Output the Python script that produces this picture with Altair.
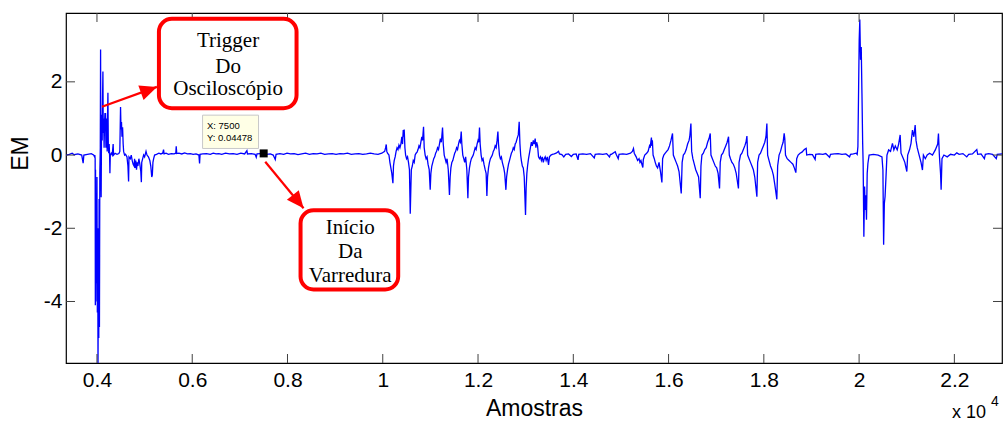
import altair as alt
import pandas as pd

# ---------------- signal (samples, EM) ----------------
samples = [
    3350, 3420, 3480, 3520, 3600, 3680, 3710, 3725, 3800, 3880, 3930, 3950,
    3955, 3962, 3966, 3970, 3976, 3982, 3992, 4000, 4008, 4016, 4022, 4030, 4038, 4045, 4052, 4060,
    4070, 4076, 4082, 4088, 4094, 4100, 4110, 4118, 4125, 4132, 4140, 4150, 4160, 4168, 4174, 4180,
    4188, 4196, 4206, 4214, 4222, 4230, 4238, 4246, 4256, 4265, 4272, 4280, 4300, 4320, 4340, 4348,
    4380, 4420, 4460, 4480, 4495, 4505, 4515, 4525, 4538, 4550, 4560, 4580,
    4600, 4630, 4650, 4664, 4672, 4700, 4720, 4740, 4760, 4780, 4790, 4800, 4815, 4830, 4845, 4860,
    4880, 4900, 4920, 4932, 4940, 4960, 4980, 5000, 5030, 5050, 5080, 5110, 5130, 5150, 5162, 5175,
    5190, 5210, 5250, 5300, 5340, 5380, 5398, 5410, 5450, 5500, 5560, 5620, 5655, 5664, 5675, 5720,
    5780, 5840, 5900, 5960, 6020, 6080, 6140, 6154, 6165, 6220, 6300, 6380, 6440, 6500, 6560, 6620,
    6700, 6780, 6860, 6940, 7020, 7100, 7148, 7160, 7240, 7320, 7344, 7360, 7440, 7500, 7560, 7640,
    7700, 7743, 7760, 7840, 7920, 7990, 8060, 8140, 8220, 8300, 8380, 8460, 8540, 8620, 8700, 8780,
    8860, 8940, 9020, 9100, 9180, 9260, 9340, 9420, 9500, 9580, 9660, 9740, 9820, 9900, 9980, 10040,
    10060, 10073, 10085, 10100,
    10130, 10150, 10170, 10190, 10213, 10225, 10240, 10260, 10280, 10300, 10320, 10340, 10360, 10380,
    10400, 10415, 10430, 10440, 10450, 10465, 10480, 10500, 10520, 10540, 10560, 10577, 10590, 10600,
    10620, 10640, 10660, 10680, 10700, 10720, 10740, 10760, 10780, 10800, 10820, 10835, 10856, 10870,
    10890, 10910, 10930, 10950, 10975, 10996, 11010, 11030, 11050, 11070, 11090, 11110, 11130, 11150,
    11170, 11190, 11210, 11230, 11255, 11270, 11290, 11310, 11330, 11350, 11375, 11400, 11415, 11430,
    11450, 11470, 11490, 11510, 11530, 11550, 11570, 11590, 11610, 11630, 11647, 11660, 11680, 11700,
    11720, 11740, 11765, 11787, 11800, 11820, 11840, 11860, 11880, 11900, 11920, 11940, 11960, 11980,
    12000, 12015, 12031, 12045, 12065, 12085, 12105, 12125, 12150, 12170, 12186, 12200, 12220, 12240,
    12260, 12280, 12300, 12320, 12340, 12360, 12380, 12400, 12417, 12430, 12450, 12470, 12490, 12510,
    12540, 12560, 12585, 12600, 12620, 12640, 12660, 12680, 12700, 12720, 12740, 12760, 12780, 12800,
    12820, 12845, 12864, 12880, 12895, 12910, 12930, 12950, 12970, 12997, 13010, 13025, 13040, 13060,
    13080, 13100, 13120, 13140, 13160, 13180, 13200, 13215, 13230, 13250, 13270, 13290, 13310, 13330,
    13350, 13370, 13390, 13410, 13430, 13455, 13480, 13500, 13530, 13560, 13600, 13640, 13690, 13710,
    13760, 13800, 13840, 13900, 13960, 14000, 14060, 14100, 14115, 14200, 14280, 14360, 14440, 14460,
    14540, 14620, 14700, 14760, 14780, 14800, 14880, 14900, 14943, 14960, 15040, 15120, 15200, 15240,
    15263, 15280, 15320, 15350, 15380, 15400, 15420, 15440, 15460, 15470, 15500, 15540, 15570, 15600,
    15615, 15628, 15640, 15650, 15660, 15675, 15700, 15720, 15745, 15770, 15800, 15830, 15860, 15875,
    15900, 15930, 15960, 15990, 16020, 16050, 16083, 16100, 16130, 16160, 16190, 16220, 16266, 16285,
    16310, 16340, 16370, 16400, 16430, 16445, 16469, 16485, 16510, 16540, 16570, 16600, 16630, 16665,
    16680, 16700, 16730, 16760, 16790, 16820, 16850, 16875, 16890, 16920, 16950, 16980, 17010, 17040,
    17070, 17085, 17110, 17140, 17170, 17200, 17230, 17259, 17275, 17300, 17330, 17360, 17390, 17420,
    17467, 17480, 17510, 17540, 17570, 17600, 17625, 17645, 17660, 17690, 17720, 17750, 17780, 17810,
    17854, 17870, 17900, 17930, 17960, 17990, 18020, 18045, 18064, 18080, 18110, 18140, 18170, 18200,
    18230, 18273, 18290, 18320, 18350, 18380, 18405, 18427, 18440, 18455, 18490, 18530, 18570, 18610,
    18640, 18672, 18690, 18720, 18760, 18800, 18850, 18889, 18900, 18960, 19020, 19077, 19090, 19160,
    19240, 19300, 19380, 19400, 19480, 19560, 19640, 19720, 19800, 19820, 19880, 19940,
    19960, 19975, 19990, 20002, 20015, 20030, 20045, 20060, 20075, 20085, 20100, 20115, 20128, 20140,
    20155, 20170, 20185, 20210, 20300, 20400, 20480, 20500, 20515, 20530, 20545, 20565, 20585, 20620,
    20660, 20700, 20730, 20760, 20800, 20830, 20862, 20880, 20930, 20960, 21002, 21020, 21060, 21090,
    21120, 21150, 21177, 21195, 21220, 21260, 21300, 21330, 21350, 21390, 21430, 21480, 21540, 21600,
    21650, 21666, 21685, 21710, 21722, 21740, 21780, 21850, 21920, 22000, 22051, 22100, 22180, 22260,
    22300, 22380, 22471, 22490, 22560, 22630, 22650, 22720, 22800, 22880, 22900, 23000,
]
em = [
    0.0, 0.02, 0.05, 0.01, 0.03, 0.0, -0.22, 0.0, 0.02, 0.04, 0.0, -0.05,
    0.0, -0.1, -4.1, -0.4, -4.0, -1.5, -3.5, -0.6, -4.3, -2.0, -5.75, -3.2, -5.0, -1.2, -4.7, -0.5,
    0.2, 2.88, -0.2, -1.15, 0.3, 1.1, 0.4, 1.6, 2.28, 0.6, 1.0, 0.2, 0.9, 1.15, 0.7, 1.15,
    0.2, 0.9, 1.0, 0.1, 1.0, 1.7, 0.3, 0.05, 0.3, 0.0, -0.5, 0.0, 0.05, 0.0, 0.3, 0.0,
    0.05, 0.02, 0.04, 0.1, 1.31, 0.7, 0.9, 0.5, 0.76, 0.3, 0.1, 0.0,
    0.02, -0.05, -0.3, -0.72, -0.05, -0.1, 0.0, -0.15, -0.25, -0.3, -0.1, -0.35, -0.15, -0.4, -0.2, -0.3,
    -0.1, -0.25, -0.45, -0.74, -0.2, -0.1, 0.0, -0.05, 0.1, 0.0, -0.05, -0.15, -0.3, -0.6, -0.55, -0.2,
    -0.1, 0.0, 0.02, 0.05, 0.03, 0.05, 0.15, 0.03, 0.05, 0.02, 0.04, 0.03, 0.05, 0.24, 0.04, 0.05,
    0.03, 0.06, 0.03, 0.04, 0.02, 0.03, 0.0, -0.23, 0.02, 0.03, 0.04, 0.02, 0.05, 0.03, 0.04, 0.02,
    0.05, 0.03, 0.04, 0.02, 0.05, 0.03, 0.12, 0.03, 0.04, 0.02, -0.06, 0.03, 0.04, 0.04478, 0.02, 0.03,
    0.0, -0.12, 0.02, 0.04, 0.02, 0.05, 0.03, 0.04, 0.01, 0.03, 0.05, 0.02, 0.04, 0.03, 0.05, 0.02,
    0.03, 0.04, 0.02, 0.04, 0.03, 0.05, 0.02, 0.03, 0.04, 0.02, 0.03, 0.05, 0.03, 0.02, 0.05, 0.1,
    0.2, 0.29, 0.1, 0.05,
    0.0, -0.2, -0.35, -0.5, -0.77, -0.3, -0.15, -0.05, 0.1, 0.2, 0.15, 0.27, 0.2, 0.3,
    0.5, 0.3, 0.68, 0.5, 0.7, 0.2, 0.0, -0.1, -0.05, -0.2, -0.4, -1.6, -0.9, -0.4,
    -0.3, -0.15, -0.2, 0.0, 0.05, 0.08, 0.15, 0.25, 0.2, 0.35, 0.5, 0.4, 0.77, 0.2,
    0.0, -0.1, -0.05, -0.25, -0.4, -0.95, -0.5, -0.3, -0.2, -0.1, -0.05, 0.05, 0.1, 0.2,
    0.15, 0.3, 0.45, 0.35, 0.75, 0.3, 0.0, -0.1, -0.2, -0.1, -0.4, -1.09, -0.6, -0.35,
    -0.2, -0.15, -0.05, 0.05, 0.1, 0.2, 0.15, 0.3, 0.4, 0.35, 0.64, 0.3, 0.0, -0.1,
    -0.2, -0.05, -0.4, -1.18, -0.6, -0.35, -0.2, -0.1, -0.05, 0.0, 0.1, 0.2, 0.15, 0.3,
    0.4, 0.35, 0.75, 0.3, 0.0, -0.15, -0.1, -0.25, -0.4, -0.5, -1.12, -0.6, -0.35, -0.2,
    -0.1, -0.05, 0.0, 0.1, 0.15, 0.25, 0.2, 0.4, 0.64, 0.3, 0.0, -0.1, -0.05, -0.2,
    -0.35, -0.5, -0.95, -0.6, -0.4, -0.25, -0.15, -0.05, 0.05, 0.1, 0.2, 0.15, 0.3, 0.35,
    0.45, 0.55, 0.91, 0.3, 0.0, -0.15, -0.3, -0.35, -0.6, -1.64, -0.9, -0.5, -0.3, -0.1,
    0.05, 0.2, 0.35, 0.25, 0.4, 0.3, 0.45, 0.2, 0.35, 0.25, -0.05, -0.1, -0.05, -0.15,
    -0.05, -0.2, -0.1, -0.05, -0.15, -0.05, -0.27, -0.05, 0.0, 0.02, 0.03, 0.05, 0.1, 0.03,
    0.01, -0.05, 0.02, 0.03, -0.04, 0.02, 0.03, -0.13, 0.02, 0.03, 0.02, 0.04, -0.08, 0.02,
    0.03, 0.02, 0.04, -0.05, 0.02, 0.02, 0.09, 0.02, -0.1, 0.02, 0.03, 0.02, 0.05, 0.1,
    0.18, 0.05, -0.05, -0.15, -0.1, -0.2, -0.15, -0.25, -0.34, -0.12, 0.0, 0.05, 0.1, 0.25,
    0.2, 0.36, 0.48, 0.25, 0.4, 0.0, -0.1, -0.2, -0.3, -0.35, -0.2, -0.45, -0.75, -0.1,
    0.0, 0.05, 0.1, 0.15, 0.25, 0.4, 0.59, 0.0, -0.1, -0.2, -0.3, -0.45, -1.05, -0.2,
    0.0, 0.05, 0.15, 0.3, 0.4, 0.5, 0.86, 0.1, -0.1, -0.25, -0.4, -0.5, -0.6, -1.18,
    -0.3, 0.0, 0.05, 0.15, 0.2, 0.35, 0.45, 0.59, 0.0, -0.1, -0.2, -0.3, -0.35, -0.5,
    -0.91, -0.2, 0.0, 0.05, 0.15, 0.25, 0.35, 0.5, 0.0, -0.1, -0.2, -0.25, -0.35, -0.5,
    -0.91, -0.2, 0.0, 0.05, 0.15, 0.25, 0.35, 0.52, 0.0, -0.1, -0.2, -0.3, -0.4, -0.6,
    -1.14, -0.2, 0.0, 0.05, 0.15, 0.25, 0.35, 0.5, 0.86, 0.0, -0.15, -0.3, -0.4, -0.55,
    -0.8, -1.21, -0.3, 0.0, 0.1, 0.25, 0.35, 0.59, 0.45, 0.0, -0.1, -0.15, -0.2, -0.25,
    -0.35, -0.48, -0.1, 0.0, 0.05, 0.08, 0.15, 0.18, 0.0, 0.02, 0.01, -0.12, 0.02, 0.03,
    0.02, 0.04, -0.06, 0.02, 0.03, 0.04, 0.02, 0.03, -0.05, 0.02, 0.03, 0.05,
    0.02, 0.23, 1.86, 3.14, 3.7, 2.6, 2.95, 1.68, 0.32, -0.23, -2.23, -0.86, -1.5, -1.1,
    -1.77, -0.5, -0.23, 0.0, 0.02, 0.0, -0.05, -0.41, -2.45, -1.32, -1.14, -0.59, 0.0, 0.14,
    0.1, 0.32, 0.14, 0.25, 0.14, 0.3, 0.55, 0.05, -0.1, -0.2, -0.45, 0.0, 0.15, 0.32,
    0.68, 0.5, 0.82, 0.4, 0.2, 0.0, -0.2, -0.41, 0.0, -0.1, 0.0, 0.05, 0.0, 0.14,
    0.3, 0.59, 0.0, -0.5, -0.95, -0.1, 0.0, -0.05, 0.02, 0.0, 0.06, 0.02, 0.04, -0.05,
    0.02, 0.03, 0.15, 0.02, 0.03, -0.1, 0.02, 0.04, 0.02, -0.1, 0.02, 0.03,
]

x_ticks = [4000, 6000, 8000, 10000, 12000, 14000, 16000, 18000, 20000, 22000]
y_ticks = [-4, -2, 0, 2]
x_domain = [3350, 23000]
y_domain = [-5.68, 3.88]

# data tip
tip_x = [7500]
tip_y = [0.04478]
tip_lines = ["X: 7500", "Y: 0.04478"]

# annotation boxes (in data units)
box_labels = ["trigger", "inicio"]
box_x1 = [5301, 8274]
box_x2 = [8190, 10324]
box_y1 = [3.72, -1.51]
box_y2 = [1.28, -3.67]
text_lines = ["Trigger", "Do", "Osciloscópio", "Início", "Da", "Varredura"]
text_x = [6752, 6752, 6752, 9317, 9317, 9317]
text_y = [2.94, 2.24, 1.64, -2.15, -2.82, -3.46]

# arrows (start -> tip, data units) and head angles
arrow_x1 = [4105, 7533]
arrow_y1 = [1.317, -0.183]
arrow_x2 = [5259, 8337]
arrow_y2 = [1.862, -1.453]
arrow_angle = [340, 51]

tipbox_x = [6217]
tipbox_x2 = [7392]
tipbox_y = [1.09]
tipbox_y2 = [0.18]
tiptext_x = [6309, 6309]
tiptext_y = [0.70, 0.39]

exponent_text = ["x 10"]
exponent_power = ["4"]

W, H = 936, 350
xs = alt.Scale(domain=x_domain, nice=False, zero=False)
ys = alt.Scale(domain=y_domain, nice=False, zero=False)

xaxis = alt.Axis(
    values=x_ticks, labelExpr="format(datum.value/10000, '~g')", title="Amostras",
    grid=False, ticks=False, domain=False, labelFont="Liberation Sans", labelFontSize=21,
    labelColor="black", labelPadding=6, titleFont="Liberation Sans", titleFontSize=23,
    titleFontWeight="normal", titleColor="black", titleY=45, titleBaseline="middle",
    labelFlush=False)
yaxis = alt.Axis(
    values=y_ticks, labelExpr="datum.value + ''", title="EM", grid=False, ticks=False,
    domain=False, labelFont="Liberation Sans", labelFontSize=21, labelColor="black",
    labelPadding=4, titleFont="Liberation Sans", titleFontSize=23, titleFontWeight="normal",
    titleColor="black", titleX=-46, titleY=140, titleBaseline="middle", titleAngle=270,
    labelFlush=False)


def X(f):
    return alt.X(f, scale=xs, axis=xaxis)


def Y(f):
    return alt.Y(f, scale=ys, axis=yaxis)


df = pd.DataFrame({"x": samples, "y": em})

line = alt.Chart(df).mark_line(color="#0000FF", strokeWidth=1.3, clip=True).encode(
    x=X("x:Q"), y=Y("y:Q"), order="x:Q")

xt = pd.DataFrame({"t": x_ticks})
yt = pd.DataFrame({"t": y_ticks})
tick_color = "#404040"
xb = alt.Chart(xt).mark_rule(color=tick_color, strokeWidth=1).encode(
    x=X("t:Q"), y=alt.value(H), y2=alt.value(H - 9))
xtp = alt.Chart(xt).mark_rule(color=tick_color, strokeWidth=1).encode(
    x=X("t:Q"), y=alt.value(0), y2=alt.value(9))
yl = alt.Chart(yt).mark_rule(color=tick_color, strokeWidth=1).encode(
    y=Y("t:Q"), x=alt.value(0), x2=alt.value(9))
yr = alt.Chart(yt).mark_rule(color=tick_color, strokeWidth=1).encode(
    y=Y("t:Q"), x=alt.value(W), x2=alt.value(W - 9))

arr = pd.DataFrame({"x1": arrow_x1, "y1": arrow_y1, "x2": arrow_x2, "y2": arrow_y2,
                    "a": arrow_angle})
arrow_lines = alt.Chart(arr).mark_rule(color="#FF0000", strokeWidth=2.2).encode(
    x=X("x1:Q"), y=Y("y1:Q"), x2="x2:Q", y2="y2:Q")
arrow_heads = alt.Chart(arr).mark_point(
    shape="M0,0L-1,-0.45L-1,0.45Z", filled=True, color="#FF0000", opacity=1,
    size=1156, strokeWidth=0).encode(
    x=X("x2:Q"), y=Y("y2:Q"), angle=alt.Angle("a:Q", scale=None))

boxes = pd.DataFrame({"k": box_labels, "x1": box_x1, "x2": box_x2, "y1": box_y1, "y2": box_y2})
box_marks = alt.Chart(boxes).mark_rect(
    fill="white", stroke="#FF0000", strokeWidth=4, cornerRadius=13).encode(
    x=X("x1:Q"), x2="x2:Q", y=Y("y1:Q"), y2="y2:Q")

texts = pd.DataFrame({"t": text_lines, "x": text_x, "y": text_y})
box_text = alt.Chart(texts).mark_text(
    font="Liberation Serif", fontSize=21, color="black", align="center",
    baseline="alphabetic").encode(x=X("x:Q"), y=Y("y:Q"), text="t:N")

tipbox = pd.DataFrame({"x": tipbox_x, "x2": tipbox_x2, "y": tipbox_y, "y2": tipbox_y2})
tip_rect = alt.Chart(tipbox).mark_rect(fill="#FFFFE6", stroke="#C8C8C8", strokeWidth=1).encode(
    x=X("x:Q"), x2="x2:Q", y=Y("y:Q"), y2="y2:Q")
tiptext = pd.DataFrame({"t": tip_lines, "x": tiptext_x, "y": tiptext_y})
tip_text = alt.Chart(tiptext).mark_text(
    font="Liberation Sans", fontSize=9.5, color="black", align="left",
    baseline="alphabetic").encode(x=X("x:Q"), y=Y("y:Q"), text="t:N")

marker = alt.Chart(pd.DataFrame({"x": tip_x, "y": tip_y})).mark_square(
    color="black", size=64, opacity=1).encode(x=X("x:Q"), y=Y("y:Q"))

exp_base = alt.Chart(pd.DataFrame({"t": exponent_text})).mark_text(
    font="Liberation Sans", fontSize=18, color="black", align="left",
    baseline="alphabetic").encode(x=alt.value(886), y=alt.value(405), text="t:N")
exp_pow = alt.Chart(pd.DataFrame({"t": exponent_power})).mark_text(
    font="Liberation Sans", fontSize=14, color="black", align="left",
    baseline="alphabetic").encode(x=alt.value(925), y=alt.value(393), text="t:N")

chart = alt.layer(
    line, xb, xtp, yl, yr, arrow_lines, arrow_heads, box_marks, box_text,
    tip_rect, tip_text, marker, exp_base, exp_pow
).properties(
    width=W, height=H,
    autosize=alt.AutoSizeParams(type="none"),
    padding={"left": 66, "top": 13, "right": 5, "bottom": 61},
    background="white",
).configure_view(stroke="black", strokeWidth=1.2)

chart.save("out.html", embed_options={"renderer": "svg", "actions": False})
